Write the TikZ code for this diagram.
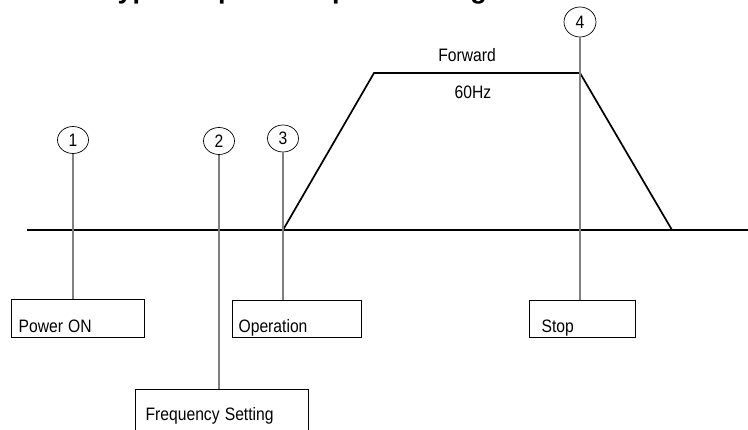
\documentclass[tikz,border=0pt]{standalone}
\usepackage{fontspec}
\setmainfont{Liberation Sans}
\usepackage{graphicx}
\usetikzlibrary{shapes.geometric}
\newcommand\nrw[1]{\scalebox{0.87}[1]{#1}}
\tikzset{
  wave/.style={line width=1.7pt, black, line join=miter},
  lead/.style={line width=1.2pt, draw=black!50},
  num/.style={ellipse, draw, line width=0.7pt, minimum width=31pt, minimum height=27pt, inner sep=0pt, font=\fontsize{18}{18}\selectfont},
  evbox/.style={draw, line width=1.3pt, rectangle, anchor=north west, inner ysep=0pt, align=left, font=\fontsize{18}{18}\selectfont},
  lbl/.style={font=\fontsize{18}{18}\selectfont, anchor=base, inner sep=0pt},
}
\begin{document}
\begin{tikzpicture}[x=1pt,y=-1pt]
\useasboundingbox (0,0) rectangle (748,430);
\clip (0,0) rectangle (748,430);
% clipped title
\node[anchor=base west, inner sep=0pt, font=\bfseries\fontsize{27}{30}\selectfont] (title) at (103,-1.5) {Typical operation pattern diagram};
% output waveform
\coordinate (L) at (27,230);
\coordinate (R) at (748,230);
\coordinate (r0) at (283,230);
\coordinate (r1) at (374,73);
\coordinate (r2) at (580,73);
\coordinate (r3) at (672,230);
\draw[wave] (L) -- (R);
\draw[wave] (r0) -- (r1) -- (r2) -- (r3);
\node[lbl] (fwd) at (467,62) {\nrw{Forward}};
\node[lbl] (hz) at (473,99) {\nrw{60Hz}};
% numbered markers
\node[num] (c1) at (73,140) {\nrw{1}};
\node[num] (c2) at (219,141) {\nrw{2}};
\node[num] (c3) at (283,138.5) {\nrw{3}};
\node[num, minimum width=32pt, minimum height=30pt] (c4) at (580,22) {\nrw{4}};
% event boxes
\node[evbox, inner xsep=7pt, text width=119pt, text height=33pt, text depth=5pt] (b1) at (11,299) {\nrw{Power ON}};
\node[evbox, inner xsep=10pt, text width=153pt, text height=31pt, text depth=30pt] (b2) at (135,389) {\nrw{Frequency Setting}};
\node[evbox, inner xsep=6pt, text width=117pt, text height=32pt, text depth=5pt] (b3) at (232,300) {\nrw{Operation}};
\node[evbox, inner xsep=12pt, text width=82pt, text height=32pt, text depth=5pt] (b4) at (529,300) {\nrw{Stop}};
% leaders
\draw[lead] (c1.south) -- (c1.south |- b1.north);
\draw[lead] (c2.south) -- (c2.south |- b2.north);
\draw[lead] (c3.south) -- (c3.south |- b3.north);
\draw[lead] (c4.south) -- (c4.south |- b4.north);
\end{tikzpicture}
\end{document}
